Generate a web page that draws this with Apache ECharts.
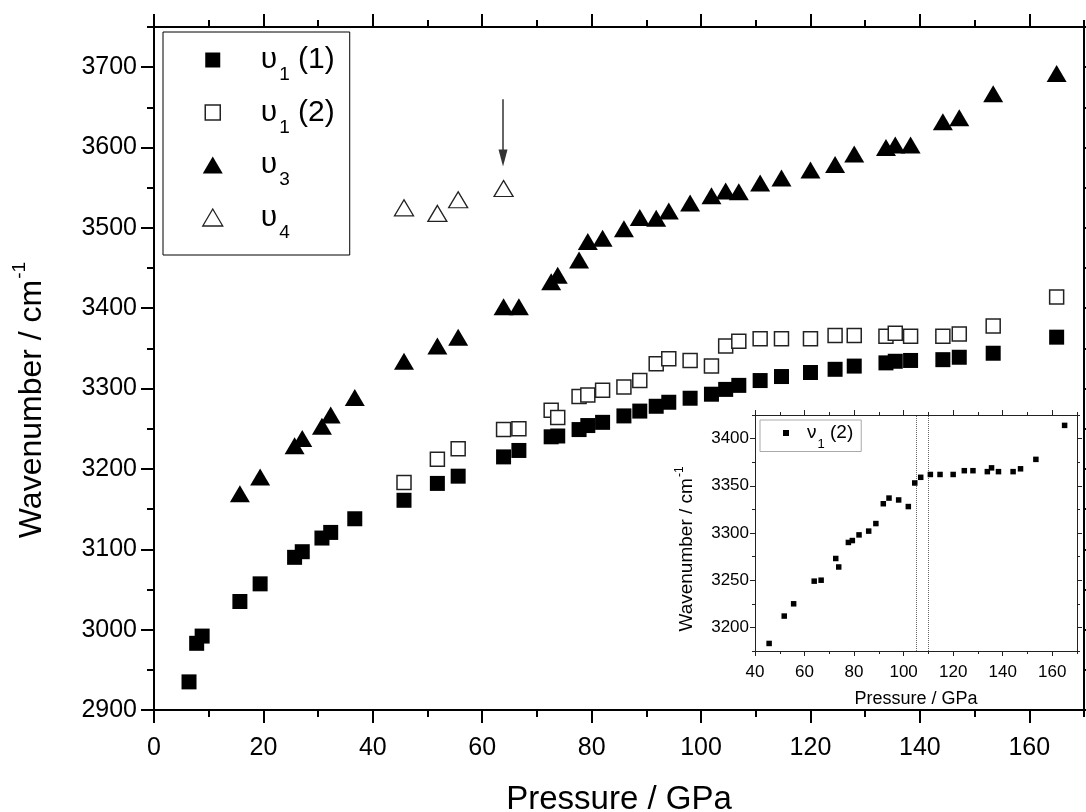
<!DOCTYPE html>
<html>
<head>
<meta charset="utf-8">
<script src="https://cdn.jsdelivr.net/npm/echarts@6/dist/echarts.min.js"></script>
<style>html,body{margin:0;padding:0;background:#fff}#c{width:1086px;height:812px}</style>
</head>
<body>
<div id="c"></div>
<script>
// ---- data ----
const pressureV1a = [6.4,7.8,8.8,15.7,19.4,25.7,27.1,30.7,32.3,36.7,45.7,51.8,55.6,63.9,66.7,72.6,73.8,77.7,79.3,82.0,85.9,88.8,91.8,94.1,98.0,101.9,104.5,106.9,110.8,114.7,120.0,124.5,128.0,133.8,135.5,138.3,144.2,147.2,153.4,165.0];
const waveV1a = [2935,2983,2992,3035,3057,3090,3097,3114,3121,3138,3161,3182,3191,3215,3223,3240,3241,3249,3254,3258,3266,3272,3278,3283,3288,3293,3299,3304,3310,3315,3320,3324,3328,3332,3334,3335,3336,3339,3344,3364];

const pressureV1b = [45.7,51.8,55.6,63.9,66.7,72.6,73.8,77.7,79.3,82.0,85.9,88.8,91.8,94.1,98.0,101.9,104.5,106.9,110.8,114.7,120.0,124.5,128.0,133.8,135.5,138.3,144.2,147.2,153.4,165.0];
const waveV1b = [3183,3212,3225,3249,3250,3273,3264,3290,3292,3298,3302,3310,3331,3337,3335,3328,3353,3359,3362,3362,3362,3366,3366,3365,3369,3365,3365,3368,3378,3414];

const pressureV3 = [15.7,19.4,25.7,27.1,30.7,32.3,36.7,45.7,51.8,55.6,63.9,66.7,72.6,73.8,77.7,79.3,82.0,85.9,88.8,91.8,94.1,98.0,101.9,104.5,106.9,110.8,114.7,120.0,124.5,128.0,133.8,135.5,138.3,144.2,147.2,153.4,165.0];
const waveV3 = [3169,3190,3229,3238,3253,3267,3289,3334,3353,3364,3402,3402,3433,3441,3460,3483,3487,3499,3513,3512,3521,3531,3540,3546,3545,3556,3562,3572,3579,3592,3600,3603,3603,3632,3637,3667,3692];

const pressureV4 = [45.7,51.8,55.6,63.9];
const waveV4 = [3525,3518,3535,3549];

// arrow annotation (data coordinates) and inset guide lines
const arrowX = 63.8;
const arrowFromTo = [3660, 3587];
const insetGuides = [105, 110];

// tick values
const xMajor = [0,20,40,60,80,100,120,140,160];
const xMinor = [10,30,50,70,90,110,130,150,170];
const yMajor = [2900,3000,3100,3200,3300,3400,3500,3600,3700];
const yMinor = [2950,3050,3150,3250,3350,3450,3550,3650,3750];
const xInsetMajor = [40,60,80,100,120,140,160];
const xInsetMinor = [50,70,90,110,130,150,170];
const yInsetMajor = [3200,3250,3300,3350,3400];
const yInsetMinor = [3175,3225,3275,3325,3375,3425];

// ---- chart ----
const FONT = "'Liberation Sans', Arial, Helvetica, sans-serif";
const pairs = (xs, ys) => xs.map((x, i) => [x, ys[i]]);

function mkAxis(o) {
  return {
    type: 'value', gridIndex: o.grid, position: o.pos, min: o.min, max: o.max,
    axisLine: {show: !!o.line, onZero: false, lineStyle: {color: o.color || '#000', width: o.lw}},
    axisTick: {show: true, inside: false, length: o.len, customValues: o.ticks,
               lineStyle: {color: o.color || '#000', width: o.lw}},
    axisLabel: o.label ? Object.assign({show: true, customValues: o.ticks, color: '#000', fontFamily: FONT,
                                        formatter: v => String(v)}, o.label) : {show: false},
    splitLine: {show: false},
    minorTick: {show: false},
    name: o.name || '', nameLocation: 'middle', nameGap: o.nameGap || 0,
    nameTextStyle: {fontFamily: FONT, fontSize: o.nameSize || 12, color: '#000'},
    silent: true
  };
}

const xAxis = [
  mkAxis({grid:0,pos:'bottom',min:0,max:170,line:true,lw:2,len:13,ticks:xMajor,
          label:{fontSize:25,margin:26},name:'Pressure / GPa',nameGap:73,nameSize:33}),
  mkAxis({grid:0,pos:'bottom',min:0,max:170,line:false,lw:2,len:7,ticks:xMinor}),
  mkAxis({grid:0,pos:'top',min:0,max:170,line:true,lw:2,len:13,ticks:xMajor}),
  mkAxis({grid:0,pos:'top',min:0,max:170,line:false,lw:2,len:7,ticks:xMinor}),
  mkAxis({grid:1,pos:'bottom',min:40,max:170,line:true,lw:1,len:5,ticks:xInsetMajor,color:'#222',
          label:{fontSize:17,margin:13},name:'Pressure / GPa',nameGap:39,nameSize:18}),
  mkAxis({grid:1,pos:'bottom',min:40,max:170,line:false,lw:1,len:3,ticks:xInsetMinor,color:'#222'}),
  mkAxis({grid:1,pos:'top',min:40,max:170,line:true,lw:1,len:5,ticks:xInsetMajor,color:'#222'}),
  mkAxis({grid:1,pos:'top',min:40,max:170,line:false,lw:1,len:3,ticks:xInsetMinor,color:'#222'})
];
const yAxis = [
  mkAxis({grid:0,pos:'left',min:2900,max:3750,line:true,lw:2,len:13,ticks:yMajor,
          label:{fontSize:25,margin:17}}),
  mkAxis({grid:0,pos:'left',min:2900,max:3750,line:false,lw:2,len:7,ticks:yMinor}),
  mkAxis({grid:0,pos:'right',min:2900,max:3750,line:true,lw:2,len:13,ticks:yMajor}),
  mkAxis({grid:0,pos:'right',min:2900,max:3750,line:false,lw:2,len:7,ticks:yMinor}),
  mkAxis({grid:1,pos:'left',min:3175,max:3425,line:true,lw:1,len:5,ticks:yInsetMajor,color:'#222',
          label:{fontSize:17,margin:6}}),
  mkAxis({grid:1,pos:'left',min:3175,max:3425,line:false,lw:1,len:3,ticks:yInsetMinor,color:'#222'}),
  mkAxis({grid:1,pos:'right',min:3175,max:3425,line:true,lw:1,len:5,ticks:yInsetMajor,color:'#222'}),
  mkAxis({grid:1,pos:'right',min:3175,max:3425,line:false,lw:1,len:3,ticks:yInsetMinor,color:'#222'})
];

const legendText = {
  v1_1: '{sp| }{g|υ}{sub|1}{g| (1)}',
  v1_2: '{sp| }{g|υ}{sub|1}{g| (2)}',
  v3:   '{sp| }{g|υ}{sub|3}',
  v4:   '{sp| }{g|υ}{sub|4}',
  nu1_2: '{sp| }{g|ν}{sub|1}{g| (2)}'
};
const squareIcon = 'path://M-2.5,-1M0,0L15,0L15,15L0,15Z M17.5,16';

const option = {
  animation: false,
  backgroundColor: '#fff',
  textStyle: {fontFamily: FONT},
  grid: [
    {left: 154, top: 27, width: 930, height: 683, containLabel: false, outerBoundsMode: 'none'},
    {left: 755, top: 415, width: 322, height: 236, show: true, backgroundColor: '#fff', borderWidth: 0,
     containLabel: false, outerBoundsMode: 'none'}
  ],
  xAxis: xAxis,
  yAxis: yAxis,
  legend: [{
    orient: 'vertical', left: 163, top: 32,
    padding: [11, 15, 13, 39],
    itemWidth: 20, itemHeight: 17, itemGap: 11,
    borderColor: '#000', borderWidth: 1, backgroundColor: '#fff',
    selectedMode: false,
    data: [
      {name: 'v1_1', icon: squareIcon},
      {name: 'v1_2', icon: squareIcon, itemStyle: {borderWidth: 1.5}},
      {name: 'v3', icon: 'triangle'},
      {name: 'v4', icon: 'triangle', itemStyle: {borderWidth: 1.3}}
    ],
    formatter: n => legendText[n],
    textStyle: {
      rich: {
        sp: {width: 33, fontSize: 30, lineHeight: 34},
        g: {fontSize: 30, lineHeight: 34, fontFamily: FONT, color: '#000'},
        sub: {fontSize: 19, height: 10, lineHeight: 10, verticalAlign: 'top', padding: [27, 0, 0, 2], fontFamily: FONT, color: '#000'}
      }
    }
  }, {
    orient: 'vertical', left: 760, top: 420,
    padding: [3, 8, 1, 23],
    itemWidth: 6, itemHeight: 6, itemGap: 0,
    borderColor: '#aaa', borderWidth: 1, backgroundColor: '#fff',
    selectedMode: false,
    data: [{name: 'nu1_2', icon: 'rect'}],
    formatter: n => legendText[n],
    textStyle: {
      rich: {
        sp: {width: 13, fontSize: 19, lineHeight: 20},
        g: {fontSize: 19, lineHeight: 20, fontFamily: FONT, color: '#000'},
        sub: {fontSize: 13, height: 8, lineHeight: 8, verticalAlign: 'top', padding: [17, 0, 0, 1], fontFamily: FONT, color: '#000'}
      }
    }
  }],
  series: [
    {name: 'v1_1', type: 'scatter', xAxisIndex: 0, yAxisIndex: 0, symbol: 'rect', symbolSize: 15,
     itemStyle: {color: '#000', opacity: 1}, data: pairs(pressureV1a, waveV1a), z: 3},
    {name: 'v1_2', type: 'scatter', xAxisIndex: 0, yAxisIndex: 0, symbol: 'rect', symbolSize: 14,
     itemStyle: {color: '#fff', borderColor: '#222', borderWidth: 1.5, opacity: 1}, data: pairs(pressureV1b, waveV1b), z: 4},
    {name: 'v3', type: 'scatter', xAxisIndex: 0, yAxisIndex: 0, symbol: 'triangle', symbolSize: [20, 17],
     itemStyle: {color: '#000', opacity: 1}, data: pairs(pressureV3, waveV3), z: 3},
    {name: 'v4', type: 'scatter', xAxisIndex: 0, yAxisIndex: 0, symbol: 'triangle', symbolSize: [19, 16],
     itemStyle: {color: '#fff', borderColor: '#222', borderWidth: 1.3, opacity: 1}, data: pairs(pressureV4, waveV4), z: 4,
     markLine: {
       silent: true, animation: false,
       symbol: ['none', 'triangle'], symbolSize: [9, 17],
       label: {show: false},
       lineStyle: {color: '#333', width: 1.5, type: 'solid', opacity: 1},
       data: [[{coord: [arrowX, arrowFromTo[0]]}, {coord: [arrowX, arrowFromTo[1]]}]]
     }},
    {name: 'nu1_2', type: 'scatter', xAxisIndex: 4, yAxisIndex: 4, symbol: 'rect', symbolSize: 5.5,
     itemStyle: {color: '#000', opacity: 1}, data: pairs(pressureV1b, waveV1b), z: 5,
     markLine: {
       silent: true, animation: false, symbol: ['none', 'none'],
       label: {show: false},
       lineStyle: {color: '#666', width: 1, type: 'dotted', opacity: 1},
       data: insetGuides.map(v => ({xAxis: v}))
     }}
  ],
  graphic: [
    {type: 'text', x: 32, y: 400, rotation: Math.PI / 2, silent: true,
     style: {text: '{m|Wavenumber / cm}{s|-1}', align: 'center', verticalAlign: 'middle', fill: '#000',
       rich: {
         m: {fontSize: 32, lineHeight: 34, fontFamily: FONT, fill: '#000'},
         s: {fontSize: 19, height: 10, lineHeight: 10, verticalAlign: 'top', padding: [0, 0, 0, 1], fontFamily: FONT, fill: '#000'}
       }}},
    {type: 'text', x: 686.6, y: 549, rotation: Math.PI / 2, silent: true, z: 10,
     style: {text: '{m|Wavenumber / cm}{s|-1}', align: 'center', verticalAlign: 'middle', fill: '#000',
       rich: {
         m: {fontSize: 19, lineHeight: 21, fontFamily: FONT, fill: '#000'},
         s: {fontSize: 12, height: 7, lineHeight: 7, verticalAlign: 'top', padding: [0, 0, 0, 1], fontFamily: FONT, fill: '#000'}
       }}}
  ]
};

const chart = echarts.init(document.getElementById('c'), null, {renderer: 'canvas'});
chart.setOption(option);
</script>
</body>
</html>
